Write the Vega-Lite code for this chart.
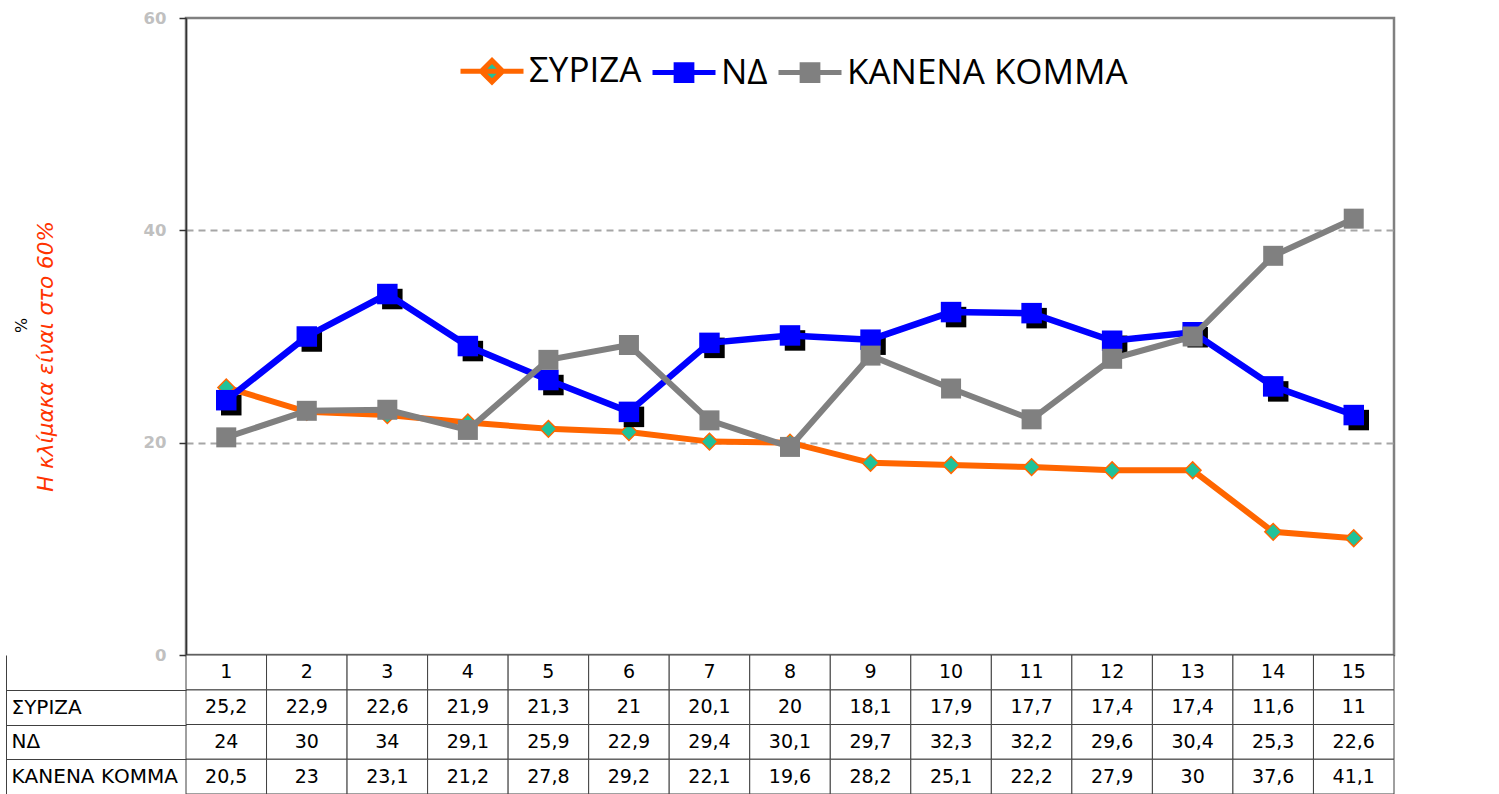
{
  "$schema": "https://vega.github.io/schema/vega-lite/v6.json",
  "padding": {"left": 5, "top": 8, "right": 5, "bottom": 0},
  "background": "white",
  "config": {
    "font": "DejaVu Sans",
    "locale": {"number": {"decimal": ",", "thousands": ".", "grouping": [3], "currency": ["", " €"]}},
    "axis": {"labelFont": "DejaVu Sans", "titleFont": "DejaVu Sans"},
    "legend": {
      "symbolSize": 3969,
      "symbolStrokeWidth": 5,
      "labelFont": "Open Sans",
      "labelFontSize": 35,
      "labelColor": "black",
      "labelOffset": 3,
      "columnPadding": 0,
      "padding": 0,
      "labelLimit": 500
    }
  },
  "datasets": {
    "polls": [
      {"period": 1, "series": "ΣΥΡΙΖΑ", "value": 25.2},
      {"period": 2, "series": "ΣΥΡΙΖΑ", "value": 22.9},
      {"period": 3, "series": "ΣΥΡΙΖΑ", "value": 22.6},
      {"period": 4, "series": "ΣΥΡΙΖΑ", "value": 21.9},
      {"period": 5, "series": "ΣΥΡΙΖΑ", "value": 21.3},
      {"period": 6, "series": "ΣΥΡΙΖΑ", "value": 21},
      {"period": 7, "series": "ΣΥΡΙΖΑ", "value": 20.1},
      {"period": 8, "series": "ΣΥΡΙΖΑ", "value": 20},
      {"period": 9, "series": "ΣΥΡΙΖΑ", "value": 18.1},
      {"period": 10, "series": "ΣΥΡΙΖΑ", "value": 17.9},
      {"period": 11, "series": "ΣΥΡΙΖΑ", "value": 17.7},
      {"period": 12, "series": "ΣΥΡΙΖΑ", "value": 17.4},
      {"period": 13, "series": "ΣΥΡΙΖΑ", "value": 17.4},
      {"period": 14, "series": "ΣΥΡΙΖΑ", "value": 11.6},
      {"period": 15, "series": "ΣΥΡΙΖΑ", "value": 11},
      {"period": 1, "series": "ΝΔ", "value": 24},
      {"period": 2, "series": "ΝΔ", "value": 30},
      {"period": 3, "series": "ΝΔ", "value": 34},
      {"period": 4, "series": "ΝΔ", "value": 29.1},
      {"period": 5, "series": "ΝΔ", "value": 25.9},
      {"period": 6, "series": "ΝΔ", "value": 22.9},
      {"period": 7, "series": "ΝΔ", "value": 29.4},
      {"period": 8, "series": "ΝΔ", "value": 30.1},
      {"period": 9, "series": "ΝΔ", "value": 29.7},
      {"period": 10, "series": "ΝΔ", "value": 32.3},
      {"period": 11, "series": "ΝΔ", "value": 32.2},
      {"period": 12, "series": "ΝΔ", "value": 29.6},
      {"period": 13, "series": "ΝΔ", "value": 30.4},
      {"period": 14, "series": "ΝΔ", "value": 25.3},
      {"period": 15, "series": "ΝΔ", "value": 22.6},
      {"period": 1, "series": "ΚΑΝΕΝΑ ΚΟΜΜΑ", "value": 20.5},
      {"period": 2, "series": "ΚΑΝΕΝΑ ΚΟΜΜΑ", "value": 23},
      {"period": 3, "series": "ΚΑΝΕΝΑ ΚΟΜΜΑ", "value": 23.1},
      {"period": 4, "series": "ΚΑΝΕΝΑ ΚΟΜΜΑ", "value": 21.2},
      {"period": 5, "series": "ΚΑΝΕΝΑ ΚΟΜΜΑ", "value": 27.8},
      {"period": 6, "series": "ΚΑΝΕΝΑ ΚΟΜΜΑ", "value": 29.2},
      {"period": 7, "series": "ΚΑΝΕΝΑ ΚΟΜΜΑ", "value": 22.1},
      {"period": 8, "series": "ΚΑΝΕΝΑ ΚΟΜΜΑ", "value": 19.6},
      {"period": 9, "series": "ΚΑΝΕΝΑ ΚΟΜΜΑ", "value": 28.2},
      {"period": 10, "series": "ΚΑΝΕΝΑ ΚΟΜΜΑ", "value": 25.1},
      {"period": 11, "series": "ΚΑΝΕΝΑ ΚΟΜΜΑ", "value": 22.2},
      {"period": 12, "series": "ΚΑΝΕΝΑ ΚΟΜΜΑ", "value": 27.9},
      {"period": 13, "series": "ΚΑΝΕΝΑ ΚΟΜΜΑ", "value": 30},
      {"period": 14, "series": "ΚΑΝΕΝΑ ΚΟΜΜΑ", "value": 37.6},
      {"period": 15, "series": "ΚΑΝΕΝΑ ΚΟΜΜΑ", "value": 41.1}
    ]
  },
  "spacing": 0,
  "bounds": "flush",
  "vconcat": [
    {
      "width": 1208,
      "height": 637,
      "view": {"stroke": "#808080", "strokeWidth": 2.5},
      "data": {"name": "polls"},
      "layer": [
        {
          "transform": [{"filter": "datum.series === 'ΣΥΡΙΖΑ'"}],
          "mark": {"type": "line", "color": "#ff6600", "strokeWidth": 6},
          "encoding": {
            "x": {"field": "period", "type": "ordinal", "scale": {"type": "point", "padding": 0.5}, "axis": null},
            "y": {
              "field": "value", "type": "quantitative", "scale": {"domain": [0, 60]},
              "axis": {
                "orient": "left", "values": [20, 40], "grid": true, "gridColor": "#a6a6a6", "gridDash": [7, 5], "gridWidth": 2,
                "domain": false, "ticks": false, "labels": false,
                "title": "Η κλίμακα είναι στο 60%", "titleColor": "#ff3300", "titleFontSize": 21.5,
                "titleFontStyle": "italic", "titleFontWeight": "normal",
                "titleX": -140, "titleY": 338, "titleAngle": 270, "titleAlign": "center", "titleBaseline": "middle"
              }
            }
          }
        },
        {
          "transform": [{"filter": "datum.series === 'ΣΥΡΙΖΑ'"}],
          "mark": {"type": "point", "shape": "diamond", "filled": true, "fill": "#1fc29a", "stroke": "#ff6600", "strokeWidth": 1.5, "size": 280, "opacity": 1},
          "encoding": {
            "x": {"field": "period", "type": "ordinal", "scale": {"type": "point", "padding": 0.5}, "axis": null},
            "y": {
              "field": "value", "type": "quantitative", "scale": {"domain": [0, 60]},
              "axis": {
                "orient": "left", "values": [0, 20, 40, 60], "grid": false,
                "domain": true, "domainColor": "#333333", "domainWidth": 1.5,
                "ticks": true, "tickSize": 7, "tickColor": "#333333", "tickWidth": 1.5,
                "labelColor": "#c0c0c0", "labelFontWeight": "bold", "labelFontSize": 16.5, "labelPadding": 13,
                "title": "%", "titleFontSize": 16, "titleFontWeight": "normal", "titleColor": "black",
                "titleX": -165, "titleY": 307, "titleAngle": 270, "titleAlign": "center", "titleBaseline": "middle"
              }
            }
          }
        },
        {
          "transform": [{"filter": "datum.series === 'ΝΔ'"}],
          "mark": {"type": "point", "shape": "square", "filled": true, "color": "black", "size": 420, "xOffset": 5, "yOffset": 5, "opacity": 1},
          "encoding": {
            "x": {"field": "period", "type": "ordinal", "scale": {"type": "point", "padding": 0.5}, "axis": null},
            "y": {"field": "value", "type": "quantitative", "scale": {"domain": [0, 60]}, "axis": null}
          }
        },
        {
          "transform": [{"filter": "datum.series === 'ΝΔ'"}],
          "mark": {"type": "line", "color": "#0000ff", "strokeWidth": 6.5},
          "encoding": {
            "x": {"field": "period", "type": "ordinal", "scale": {"type": "point", "padding": 0.5}, "axis": null},
            "y": {"field": "value", "type": "quantitative", "scale": {"domain": [0, 60]}, "axis": null}
          }
        },
        {
          "transform": [{"filter": "datum.series === 'ΝΔ'"}],
          "mark": {"type": "point", "shape": "square", "filled": true, "color": "#0000ff", "size": 420, "opacity": 1},
          "encoding": {
            "x": {"field": "period", "type": "ordinal", "scale": {"type": "point", "padding": 0.5}, "axis": null},
            "y": {"field": "value", "type": "quantitative", "scale": {"domain": [0, 60]}, "axis": null}
          }
        },
        {
          "transform": [{"filter": "datum.series === 'ΚΑΝΕΝΑ ΚΟΜΜΑ'"}],
          "mark": {"type": "line", "color": "#808080", "strokeWidth": 6},
          "encoding": {
            "x": {"field": "period", "type": "ordinal", "scale": {"type": "point", "padding": 0.5}, "axis": null},
            "y": {"field": "value", "type": "quantitative", "scale": {"domain": [0, 60]}, "axis": null}
          }
        },
        {
          "transform": [{"filter": "datum.series === 'ΚΑΝΕΝΑ ΚΟΜΜΑ'"}],
          "mark": {"type": "point", "shape": "square", "filled": true, "color": "#808080", "size": 400, "opacity": 1},
          "encoding": {
            "x": {"field": "period", "type": "ordinal", "scale": {"type": "point", "padding": 0.5}, "axis": null},
            "y": {"field": "value", "type": "quantitative", "scale": {"domain": [0, 60]}, "axis": null}
          }
        },
        {
          "transform": [{"filter": "false"}],
          "mark": {"type": "point", "filled": true, "strokeWidth": 5, "opacity": 1},
          "encoding": {
            "x": {"field": "period", "type": "ordinal", "scale": {"type": "point", "padding": 0.5}, "axis": null},
            "y": {"field": "value", "type": "quantitative", "scale": {"domain": [0, 60]}, "axis": null},
            "fill": {
              "field": "series", "type": "nominal",
              "scale": {"domain": ["ΣΥΡΙΖΑ", "ΝΔ", "ΚΑΝΕΝΑ ΚΟΜΜΑ"], "range": ["#1fc29a", "#0000ff", "#808080"]},
              "legend": {"title": null, "orient": "none", "legendX": 272, "legendY": 19, "direction": "horizontal"}
            },
            "stroke": {
              "field": "series", "type": "nominal",
              "scale": {"domain": ["ΣΥΡΙΖΑ", "ΝΔ", "ΚΑΝΕΝΑ ΚΟΜΜΑ"], "range": ["#ff6600", "#0000ff", "#808080"]},
              "legend": {"title": null, "orient": "none", "legendX": 272, "legendY": 19, "direction": "horizontal"}
            },
            "shape": {
              "field": "series", "type": "nominal",
              "scale": {"domain": ["ΣΥΡΙΖΑ", "ΝΔ", "ΚΑΝΕΝΑ ΚΟΜΜΑ"], "range": ["M-1,0H1M0,-0.34L0.34,0L0,0.34L-0.34,0Z", "M-1,0H1M-0.25,-0.25H0.25V0.25H-0.25Z", "M-1,0H1M-0.25,-0.25H0.25V0.25H-0.25Z"]},
              "legend": {"title": null, "orient": "none", "legendX": 272, "legendY": 19, "direction": "horizontal"}
            }
          }
        }
      ],
      "resolve": {"axis": {"y": "independent"}}
    },
    {
      "width": 1208,
      "height": 139,
      "view": {"stroke": null},
      "data": {"name": "polls"},
      "layer": [
        {
          "mark": {"type": "rect", "fill": "white", "stroke": "#404040", "strokeWidth": 1},
          "encoding": {
            "x": {"field": "period", "type": "ordinal", "scale": {"type": "band", "paddingInner": 0, "paddingOuter": 0}, "axis": null},
            "y": {
              "field": "series", "type": "nominal",
              "scale": {"type": "band", "domain": ["hdr", "ΣΥΡΙΖΑ", "ΝΔ", "ΚΑΝΕΝΑ ΚΟΜΜΑ"], "paddingInner": 0, "paddingOuter": 0},
              "axis": {
                "orient": "left", "values": ["ΣΥΡΙΖΑ", "ΝΔ", "ΚΑΝΕΝΑ ΚΟΜΜΑ"], "tickBand": "extent",
                "ticks": true, "tickSize": 180, "tickColor": "#404040", "tickWidth": 1,
                "domain": false, "grid": false, "labelAlign": "left", "labelPadding": -5,
                "labelFontSize": 20, "labelColor": "black", "labelBaseline": "middle", "labelLimit": 200, "title": null
              }
            }
          }
        },
        {
          "transform": [{"filter": "datum.series === 'ΣΥΡΙΖΑ'"}],
          "mark": {"type": "rect", "fill": "white", "stroke": "#404040", "strokeWidth": 1},
          "encoding": {
            "x": {"field": "period", "type": "ordinal", "scale": {"type": "band", "paddingInner": 0, "paddingOuter": 0}, "axis": null},
            "y": {
              "datum": "hdr", "type": "nominal",
              "axis": {"orient": "left", "offset": 180, "domain": true, "domainColor": "#404040", "domainWidth": 1, "ticks": false, "labels": false, "grid": false, "title": null}
            }
          }
        },
        {
          "transform": [{"filter": "datum.series === 'ΣΥΡΙΖΑ'"}],
          "mark": {"type": "text", "fontSize": 19, "color": "black"},
          "encoding": {
            "x": {"field": "period", "type": "ordinal", "scale": {"type": "band", "paddingInner": 0, "paddingOuter": 0}, "axis": null},
            "y": {"datum": "hdr", "type": "nominal", "axis": null},
            "text": {"field": "period", "type": "ordinal"}
          }
        },
        {
          "mark": {"type": "text", "fontSize": 19, "color": "black"},
          "encoding": {
            "x": {"field": "period", "type": "ordinal", "scale": {"type": "band", "paddingInner": 0, "paddingOuter": 0}, "axis": null},
            "y": {"field": "series", "type": "nominal", "axis": null},
            "text": {"field": "value", "type": "quantitative", "format": ".3~r"}
          }
        }
      ],
      "resolve": {"axis": {"y": "independent"}}
    }
  ]
}
